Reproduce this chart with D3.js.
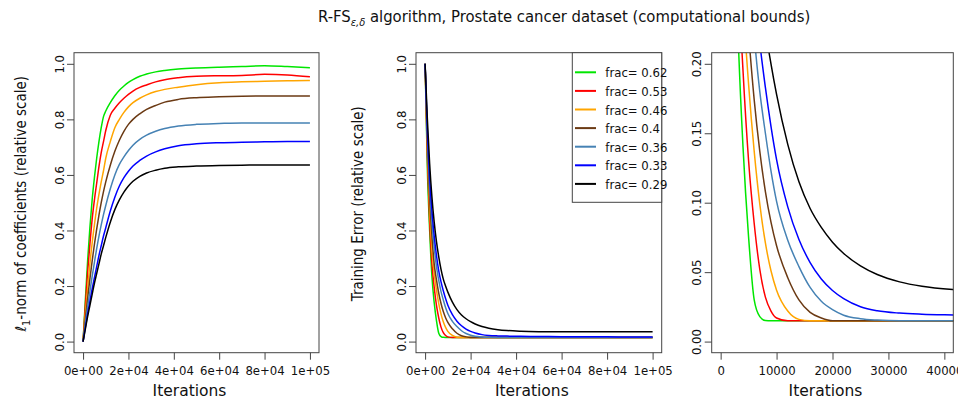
<!DOCTYPE html>
<html>
<head>
<meta charset="utf-8">
<script src="https://cdn.jsdelivr.net/npm/d3@7"></script>
<style>
  html, body { margin: 0; padding: 0; background: #fff; }
  svg { display: block; }
  .tick-lab { font-family: "Liberation Sans Narrow", "DejaVu Sans Condensed", sans-serif; font-size: 13px; fill: #111; }
  .x-title { font-family: "DejaVu Sans", sans-serif; font-size: 15.5px; fill: #111; }
  .y-title { font-family: "DejaVu Sans Condensed", "DejaVu Sans", sans-serif; font-size: 15px; fill: #111; }
</style>
</head>
<body>
<div id="chart"></div>
<script>
// iteration grid shared by every series
const iterations = [0, 1000, 2000, 3000, 4000, 5000, 6000, 7000, 8000, 9000, 10000,
  12000, 14000, 16000, 18000, 20000, 22000, 25000, 28000, 32000, 36000, 42000,
  50000, 60000, 70000, 80000, 90000, 100000];

const fracLabels = ["0.62", "0.53", "0.46", "0.4", "0.36", "0.33", "0.29"];

// l1-norm of coefficients (relative scale)
const l1_062 = [0, 0.15, 0.29, 0.41, 0.51, 0.59, 0.66, 0.72, 0.77, 0.81, 0.83,
  0.86, 0.885, 0.905, 0.92, 0.933, 0.943, 0.955, 0.963, 0.971, 0.976, 0.981,
  0.985, 0.988, 0.99, 0.993, 0.99, 0.986];
const l1_053 = [0, 0.13, 0.25, 0.35, 0.44, 0.51, 0.57, 0.63, 0.68, 0.72, 0.76,
  0.815, 0.84, 0.86, 0.876, 0.89, 0.902, 0.915, 0.924, 0.935, 0.943, 0.95,
  0.955, 0.957, 0.958, 0.962, 0.96, 0.953];
const l1_046 = [0, 0.10, 0.19, 0.28, 0.355, 0.42, 0.48, 0.53, 0.575, 0.615, 0.66,
  0.72, 0.77, 0.80, 0.825, 0.845, 0.86, 0.876, 0.888, 0.90, 0.908, 0.916,
  0.925, 0.932, 0.935, 0.937, 0.939, 0.94];
const l1_040 = [0, 0.08, 0.155, 0.225, 0.29, 0.35, 0.405, 0.455, 0.5, 0.54, 0.575,
  0.635, 0.685, 0.725, 0.757, 0.782, 0.80, 0.82, 0.836, 0.85, 0.862, 0.872,
  0.878, 0.881, 0.883, 0.884, 0.884, 0.884];
const l1_036 = [0, 0.065, 0.125, 0.18, 0.235, 0.285, 0.335, 0.38, 0.42, 0.457, 0.49,
  0.55, 0.60, 0.638, 0.665, 0.688, 0.707, 0.728, 0.743, 0.757, 0.767, 0.776,
  0.782, 0.785, 0.787, 0.787, 0.787, 0.787];
const l1_033 = [0, 0.05, 0.10, 0.145, 0.19, 0.23, 0.27, 0.31, 0.345, 0.38, 0.41,
  0.47, 0.52, 0.56, 0.59, 0.613, 0.632, 0.652, 0.668, 0.683, 0.694, 0.705,
  0.712, 0.716, 0.718, 0.719, 0.72, 0.72];
const l1_029 = [0, 0.045, 0.09, 0.13, 0.17, 0.21, 0.245, 0.28, 0.315, 0.345, 0.375,
  0.43, 0.475, 0.51, 0.538, 0.56, 0.577, 0.595, 0.607, 0.617, 0.624, 0.629,
  0.632, 0.634, 0.635, 0.636, 0.636, 0.636];

// training error (relative scale)
const err_062 = [1.0, 0.62, 0.40, 0.235, 0.14, 0.075, 0.03, 0.018, 0.0152, 0.015, 0.015,
  0.015, 0.015, 0.015, 0.015, 0.015, 0.015, 0.015, 0.015, 0.015, 0.015, 0.015,
  0.015, 0.015, 0.015, 0.015, 0.015, 0.015];
const err_053 = [1.0, 0.66, 0.43, 0.28, 0.195, 0.13, 0.085, 0.052, 0.032, 0.022, 0.017,
  0.015, 0.015, 0.015, 0.015, 0.015, 0.015, 0.015, 0.015, 0.015, 0.015, 0.015,
  0.015, 0.015, 0.015, 0.015, 0.015, 0.015];
const err_046 = [1.0, 0.70, 0.48, 0.33, 0.245, 0.185, 0.137, 0.099, 0.071, 0.051, 0.037,
  0.022, 0.016, 0.015, 0.015, 0.015, 0.015, 0.015, 0.015, 0.015, 0.015, 0.015,
  0.015, 0.015, 0.015, 0.015, 0.015, 0.015];
const err_040 = [1.0, 0.72, 0.52, 0.38, 0.28, 0.222, 0.174, 0.137, 0.108, 0.086, 0.069,
  0.046, 0.030, 0.021, 0.017, 0.015, 0.015, 0.015, 0.015, 0.015, 0.015, 0.015,
  0.015, 0.015, 0.015, 0.015, 0.015, 0.015];
const err_036 = [1.0, 0.74, 0.56, 0.43, 0.34, 0.27, 0.22, 0.18, 0.15, 0.123, 0.101,
  0.073, 0.054, 0.039, 0.029, 0.023, 0.019, 0.0165, 0.0155, 0.015, 0.015, 0.015,
  0.015, 0.015, 0.015, 0.015, 0.015, 0.015];
const err_033 = [1.0, 0.76, 0.59, 0.47, 0.38, 0.31, 0.255, 0.215, 0.183, 0.155, 0.131,
  0.097, 0.0735, 0.0569, 0.0451, 0.0368, 0.0309, 0.0251, 0.0222, 0.0205, 0.0197, 0.0191,
  0.0183, 0.0176, 0.0172, 0.017, 0.0168, 0.0167];
const err_029 = [1.0, 0.80, 0.64, 0.52, 0.43, 0.36, 0.305, 0.26, 0.225, 0.2, 0.178,
  0.142, 0.115, 0.0958, 0.0822, 0.0716, 0.0634, 0.0545, 0.0483, 0.043, 0.0398, 0.0373,
  0.0358, 0.0353, 0.0351, 0.035, 0.035, 0.035];

// axis ticks
const iterTicks = [0, 20000, 40000, 60000, 80000, 100000];
const iterTickLabels = ["0e+00", "2e+04", "4e+04", "6e+04", "8e+04", "1e+05"];
const zoomIterTicks = [0, 10000, 20000, 30000, 40000];
const zoomIterTickLabels = ["0", "10000", "20000", "30000", "40000"];
const relTicks = [0, 0.2, 0.4, 0.6, 0.8, 1.0];
const relTickLabels = ["0.0", "0.2", "0.4", "0.6", "0.8", "1.0"];
const zoomErrTicks = [0, 0.05, 0.10, 0.15, 0.20];
const zoomErrTickLabels = ["0.00", "0.05", "0.10", "0.15", "0.20"];

const colors = ["#00e600", "#ff0000", "#ffa500", "#6b3a14", "#4682b4", "#0000ff", "#000000"];
const l1Series = [l1_062, l1_053, l1_046, l1_040, l1_036, l1_033, l1_029];
const errSeries = [err_062, err_053, err_046, err_040, err_036, err_033, err_029];

const W = 958, H = 403;
const svg = d3.select("#chart").append("svg")
  .attr("width", W).attr("height", H)
  .attr("viewBox", `0 0 ${W} ${H}`);

// title with ε,δ subscript
const title = svg.append("text")
  .attr("x", 318).attr("y", 22)
  .attr("font-family", "DejaVu Sans Condensed, DejaVu Sans, sans-serif")
  .attr("font-size", "16.5px")
  .attr("fill", "#111");
title.append("tspan").text("R-FS");
title.append("tspan").attr("font-size", "11px").attr("dy", 4).attr("font-style", "italic").text("ε,δ");
title.append("tspan").attr("dy", -4).text(" algorithm, Prostate cancer dataset (computational bounds)");

const plotTop = 52.7, plotBottom = 352.7;

const panels = [
  { id: "p1", left: 74, right: 319, xDom: [-4000, 104000], yDom: [-0.04, 1.04],
    xTicks: iterTicks, xLabels: iterTickLabels, yTicks: relTicks, yLabels: relTickLabels,
    series: l1Series, ylab: "l1", ylabX: 26 },
  { id: "p2", left: 416, right: 661.7, xDom: [-4000, 104000], yDom: [-0.04, 1.04],
    xTicks: iterTicks, xLabels: iterTickLabels, yTicks: relTicks, yLabels: relTickLabels,
    series: errSeries, ylab: "Training Error (relative scale)", ylabX: 363, legend: true },
  { id: "p3", left: 711.7, right: 953.3, xDom: [-1600, 41600], yDom: [-0.008, 0.208],
    xTicks: zoomIterTicks, xLabels: zoomIterTickLabels, yTicks: zoomErrTicks, yLabels: zoomErrTickLabels,
    series: errSeries }
];

panels.forEach(p => {
  const x = d3.scaleLinear().domain(p.xDom).range([p.left, p.right]);
  const y = d3.scaleLinear().domain(p.yDom).range([plotBottom, plotTop]);
  const g = svg.append("g");

  g.append("clipPath").attr("id", `clip-${p.id}`)
    .append("rect")
      .attr("x", p.left).attr("y", plotTop)
      .attr("width", p.right - p.left).attr("height", plotBottom - plotTop);

  const line = d3.line()
    .x((d, i) => x(iterations[i]))
    .y(d => y(d))
    .curve(d3.curveMonotoneX);

  const lines = g.append("g").attr("clip-path", `url(#clip-${p.id})`);
  p.series.forEach((s, i) => {
    lines.append("path")
      .datum(s)
      .attr("d", line)
      .attr("fill", "none")
      .attr("stroke", colors[i])
      .attr("stroke-width", 1.5)
      .attr("stroke-linejoin", "round");
  });

  // x axis
  const xAxis = g.append("g")
    .attr("transform", `translate(0,${plotBottom})`)
    .call(d3.axisBottom(x).tickValues(p.xTicks)
      .tickFormat((d, i) => p.xLabels[i]).tickSize(7).tickSizeOuter(0));
  xAxis.select(".domain").remove();
  xAxis.selectAll(".tick line").attr("stroke", "#444");
  xAxis.selectAll(".tick text")
    .attr("class", "tick-lab")
    .attr("y", 0).attr("dy", null)
    .attr("transform", "translate(0,22)");

  // y axis with rotated labels
  const yAxis = g.append("g")
    .attr("transform", `translate(${p.left},0)`)
    .call(d3.axisLeft(y).tickValues(p.yTicks)
      .tickFormat((d, i) => p.yLabels[i]).tickSize(7).tickSizeOuter(0));
  yAxis.select(".domain").remove();
  yAxis.selectAll(".tick line").attr("stroke", "#444");
  yAxis.selectAll(".tick text")
    .attr("class", "tick-lab")
    .attr("x", 0).attr("y", -10.5).attr("dy", null)
    .attr("text-anchor", "middle")
    .attr("transform", "rotate(-90)");

  // plot frame
  g.append("rect")
    .attr("x", p.left).attr("y", plotTop)
    .attr("width", p.right - p.left).attr("height", plotBottom - plotTop)
    .attr("fill", "none").attr("stroke", "#444").attr("stroke-width", 1);

  const cx = (p.left + p.right) / 2;
  g.append("text").attr("class", "x-title")
    .attr("x", cx - 7).attr("y", 396)
    .attr("text-anchor", "middle")
    .text("Iterations");

  if (p.ylab) {
    const cy = (plotTop + plotBottom) / 2 + 1;
    const t = g.append("text").attr("class", "y-title")
      .attr("text-anchor", "middle")
      .attr("transform", `translate(${p.ylabX},${cy}) rotate(-90)`);
    if (p.ylab === "l1") {
      t.append("tspan").attr("font-style", "italic").text("ℓ");
      t.append("tspan").attr("font-size", "11px").attr("dy", 4).text("1");
      t.append("tspan").attr("dy", -4).text("-norm of coefficients (relative scale)");
    } else {
      t.text(p.ylab);
    }
  }

  if (p.legend) {
    const lx = 572.3, ly = plotTop;
    const lg = g.append("g");
    lg.append("rect")
      .attr("x", lx).attr("y", ly)
      .attr("width", p.right - lx).attr("height", 202.3 - ly)
      .attr("fill", "#fff").attr("stroke", "#444");
    fracLabels.forEach((f, i) => {
      const ry = 72.3 + i * 18.6;
      lg.append("line")
        .attr("x1", 575).attr("x2", 596)
        .attr("y1", ry).attr("y2", ry)
        .attr("stroke", colors[i]).attr("stroke-width", 2);
      lg.append("text")
        .attr("class", "tick-lab")
        .attr("x", 605.3).attr("y", ry + 5)
        .attr("font-size", "14px")
        .text(`frac= ${f}`);
    });
  }
});
</script>
</body>
</html>
